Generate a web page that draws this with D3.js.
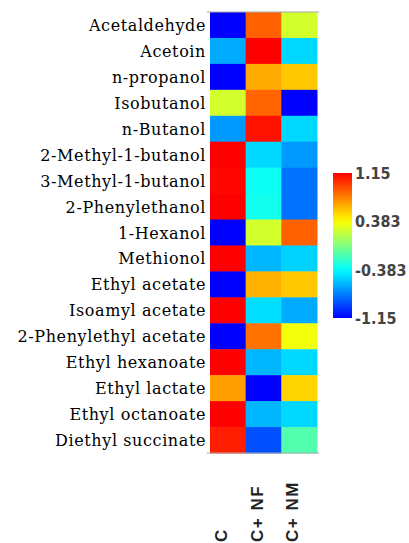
<!DOCTYPE html>
<html>
<head>
<meta charset="utf-8">
<script src="https://cdn.jsdelivr.net/npm/d3@7"></script>
<style>
  body { margin: 0; background: #fff; }
  svg { display: block; }
</style>
</head>
<body>
<div id="chart"></div>
<script>
const compounds = [
  "Acetaldehyde", "Acetoin", "n-propanol", "Isobutanol", "n-Butanol",
  "2-Methyl-1-butanol", "3-Methyl-1-butanol", "2-Phenylethanol", "1-Hexanol",
  "Methionol", "Ethyl acetate", "Isoamyl acetate", "2-Phenylethyl acetate",
  "Ethyl hexanoate", "Ethyl lactate", "Ethyl octanoate", "Diethyl succinate"
];
const samples = ["C", "C+ NF", "C+ NM"];

// z-scores per compound
const valC  = [-1.15, -0.64, -1.15, 0.25, -0.69, 1.15, 1.13, 1.15, -1.15, 1.15, -1.15, 1.15, -1.15, 1.15, 0.67, 1.15, 1.06];
const valNF = [0.86, 1.15, 0.64, 0.85, 1.10, -0.50, -0.35, -0.33, 0.25, -0.60, 0.62, -0.48, 0.81, -0.60, -1.15, -0.60, -0.91];
const valNM = [0.25, -0.50, 0.55, -1.15, -0.50, -0.69, -0.81, -0.81, 0.86, -0.52, 0.55, -0.64, 0.35, -0.50, 0.51, -0.50, -0.14];

const legendTicks = [1.15, 0.383, -0.383, -1.15];

const width = 409, height = 543;
const grid = { left: 210, right: 317, top: 12, bottom: 453 };

const svg = d3.select("#chart").append("svg")
  .attr("width", width)
  .attr("height", height);

const x = d3.scaleBand().domain(samples).range([grid.left, grid.right]);
const y = d3.scaleBand().domain(compounds).range([grid.top, grid.bottom]);

// jet-like colormap: blue -> cyan -> yellow -> red
const jetMid = d3.scaleLinear()
  .domain([-1.15, -0.767, -0.383, 0, 0.383, 0.767, 1.15])
  .range(["#0000ff", "#0080ff", "#00ffff", "#80ff80", "#ffff00", "#ff8000", "#ff0000"])
  .clamp(true);

const cells = [];
compounds.forEach((c, i) => {
  cells.push({ row: c, col: samples[0], v: valC[i] });
  cells.push({ row: c, col: samples[1], v: valNF[i] });
  cells.push({ row: c, col: samples[2], v: valNM[i] });
});

svg.append("g")
  .selectAll("rect")
  .data(cells)
  .join("rect")
    .attr("x", d => x(d.col))
    .attr("y", d => y(d.row))
    .attr("width", x.bandwidth() + 0.5)
    .attr("height", y.bandwidth() + 0.5)
    .attr("fill", d => jetMid(d.v));

// thin frame lines top and bottom
svg.append("g")
  .selectAll("line")
  .data([grid.top, grid.bottom])
  .join("line")
    .attr("x1", grid.left - 3)
    .attr("x2", grid.right + 2)
    .attr("y1", d => d)
    .attr("y2", d => d)
    .attr("stroke", "#aaa")
    .attr("stroke-width", 1.2);

// row labels
svg.append("g")
  .selectAll("text")
  .data(compounds)
  .join("text")
    .attr("x", grid.left - 4)
    .attr("y", d => y(d) + y.bandwidth() / 2 + 6)
    .attr("text-anchor", "end")
    .style("font-family", "'DejaVu Serif', serif")
    .style("font-size", "16px")
    .style("letter-spacing", "0.6px")
    .style("fill", "#000")
    .text(d => d);

// column labels (rotated)
svg.append("g")
  .selectAll("text")
  .data(samples)
  .join("text")
    .attr("transform", d => `translate(${x(d) + x.bandwidth() / 2 - 1},542) rotate(-90)`)
    .attr("text-anchor", "start")
    .style("font-family", "'Liberation Sans', Arial, sans-serif")
    .style("font-size", "17px")
    .style("font-weight", "bold")
    .style("letter-spacing", "1.5px")
    .style("fill", "#222")
    .text(d => d);

// colour bar
const legend = { x: 333, w: 19, top: 173, bottom: 318 };
const ly = d3.scaleLinear().domain([-1.15, 1.15]).range([legend.bottom, legend.top]);

const defs = svg.append("defs");
const grad = defs.append("linearGradient")
  .attr("id", "jetGrad")
  .attr("x1", "0").attr("y1", "1")
  .attr("x2", "0").attr("y2", "0");
grad.selectAll("stop")
  .data(d3.range(0, 1.0001, 0.05))
  .join("stop")
    .attr("offset", d => d)
    .attr("stop-color", d => jetMid(-1.15 + 2.3 * d));

svg.append("rect")
  .attr("x", legend.x)
  .attr("y", legend.top)
  .attr("width", legend.w)
  .attr("height", legend.bottom - legend.top)
  .attr("fill", "url(#jetGrad)");

svg.append("g")
  .selectAll("text")
  .data(legendTicks)
  .join("text")
    .attr("x", legend.x + legend.w + 3)
    .attr("y", d => ly(d) + 6)
    .style("font-family", "'DejaVu Sans Condensed', 'DejaVu Sans', sans-serif")
    .style("font-size", "16px")
    .style("font-weight", "bold")
    .style("fill", "#444")
    .text(d => d);
</script>
</body>
</html>
